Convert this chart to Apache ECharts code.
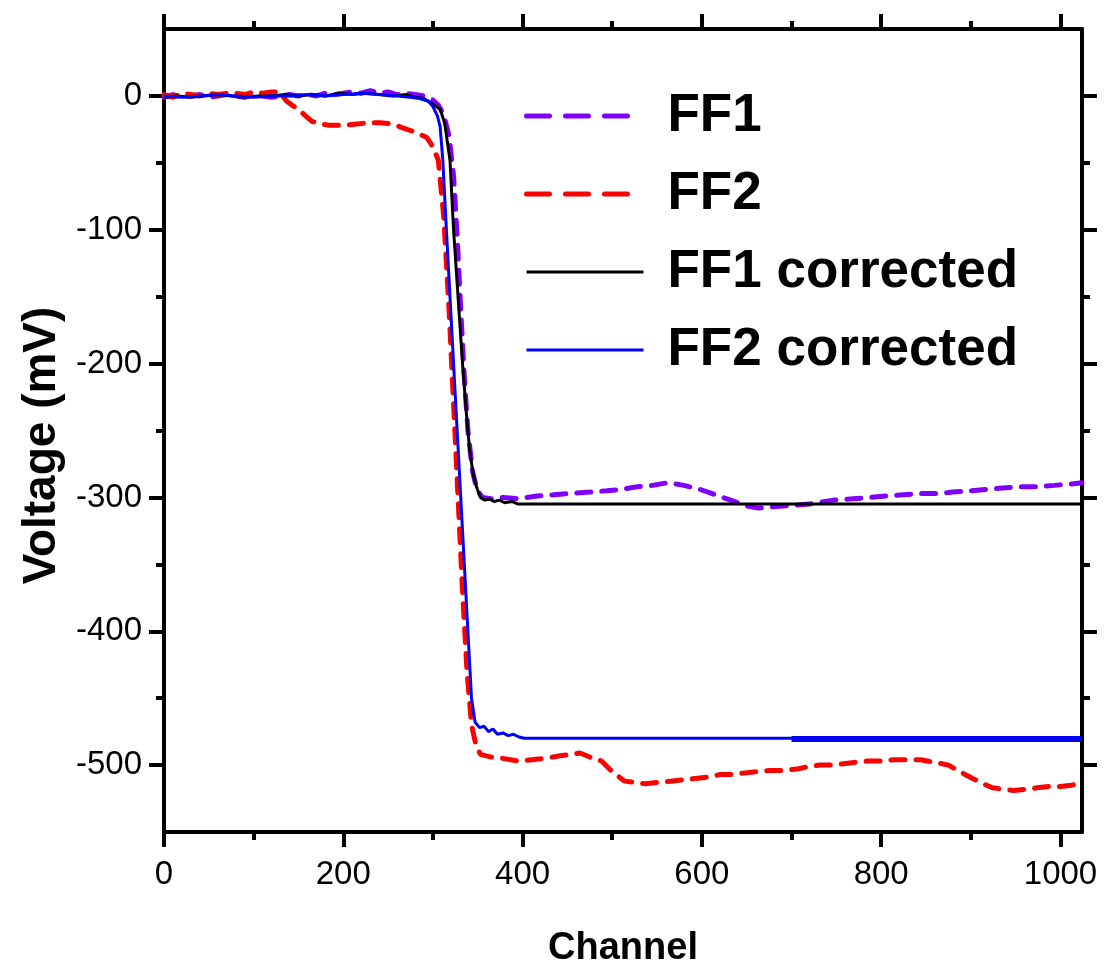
<!DOCTYPE html>
<html>
<head>
<meta charset="utf-8">
<script src="https://cdn.jsdelivr.net/npm/echarts@6/dist/echarts.min.js"></script>
<style>
html,body{margin:0;padding:0;background:#fff;}
#chart{width:1106px;height:968px;}
</style>
</head>
<body>
<div id="chart"></div>
<script>
// ---- Data (channel, mV) ----
const xTicks = [0, 200, 400, 600, 800, 1000];
const xMinorTicks = [100, 300, 500, 700, 900];
const yTicks = [-500, -400, -300, -200, -100, 0];
const yMinorTicks = [-450, -350, -250, -150, -50];

const ff1 = [[0,-1],[10,1],[20,-1],[30,0],[40,1],[50,-1],[60,0],[70,1],[80,0],[90,-1],[100,1],[110,0],[120,-1],[130,0],[140,1],[150,0],[160,1],[170,0],[180,2],[190,1],[200,2],[210,3],[220,2],[230,4],[240,2],[250,3],[260,1],[270,2],[280,1],[290,0],[300,-3],[306,-7],[312,-14],[318,-30],[323,-60],[327,-105],[331,-160],[335,-210],[339,-250],[344,-280],[349,-294],[355,-300],[365,-301],[378,-300],[395,-301],[416,-299],[435,-298],[455,-297],[475,-296],[494,-295],[510,-294],[528,-292],[545,-291],[562,-289],[580,-291],[598,-294],[615,-298],[632,-302],[648,-306],[663,-308],[680,-307],[699,-306],[720,-305],[747,-302],[768,-301],[788,-300],[805,-299],[825,-298],[845,-297],[864,-297],[880,-296],[900,-295],[918,-294],[935,-293],[955,-292],[974,-292],[993,-291],[1011,-290],[1024,-289]];

const ff2 = [[0,1],[10,-1],[20,2],[30,1],[40,0],[50,2],[60,1],[70,2],[80,2],[90,1],[100,3],[110,2],[120,3],[128,3],[137,-4],[143,-7],[150,-10],[158,-15],[165,-19],[175,-21],[185,-22],[200,-22],[215,-21],[230,-20],[241,-20],[255,-21],[267,-24],[280,-27],[293,-31],[300,-38],[306,-48],[312,-90],[318,-160],[323,-230],[328,-300],[333,-370],[338,-430],[343,-470],[348,-485],[353,-492],[365,-494],[378,-495],[395,-497],[410,-496],[425,-495],[442,-493],[455,-492],[464,-491],[475,-494],[488,-497],[500,-505],[514,-512],[525,-513],[537,-514],[550,-513],[565,-512],[580,-511],[593,-510],[607,-509],[621,-507],[635,-507],[646,-506],[660,-505],[676,-504],[690,-504],[706,-503],[720,-501],[732,-500],[745,-500],[758,-499],[770,-498],[784,-497],[800,-497],[814,-496],[830,-496],[844,-496],[860,-498],[875,-500],[888,-505],[902,-510],[914,-514],[924,-517],[936,-518],[948,-519],[962,-518],[974,-517],[987,-516],[1000,-516],[1012,-515],[1022,-514]];

const ff1c = [[0,-1],[15,0],[30,-1],[45,0],[60,1],[75,0],[90,-1],[105,0],[120,0],[135,1],[150,0],[165,1],[180,0],[195,2],[210,1],[225,2],[240,1],[255,0],[270,1],[280,-1],[290,-2],[300,-6],[308,-10],[313,-20],[319,-48],[323,-100],[328,-150],[333,-200],[337,-235],[341,-265],[345,-283],[349,-293],[353,-300],[358,-302],[363,-301],[368,-303],[374,-302],[380,-304],[388,-303],[395,-305],[402,-305],[1024,-305]];

const ff2c = [[0,0],[20,-1],[40,0],[60,1],[80,0],[100,-1],[120,0],[140,0],[160,1],[180,0],[200,1],[220,2],[240,1],[260,0],[275,-1],[285,-2],[295,-4],[300,-8],[305,-15],[308,-23],[311,-48],[315,-100],[319,-150],[323,-200],[327,-250],[331,-300],[335,-350],[339,-400],[343,-450],[347,-468],[352,-472],[357,-471],[362,-475],[367,-473],[372,-477],[378,-476],[384,-478],[390,-477],[396,-479],[402,-480],[700,-480],[1024,-480]];

const seriesNames = ['FF1', 'FF2', 'FF1 corrected', 'FF2 corrected'];
const seriesColors = ['#8000ff', '#ff0000', '#000000', '#0000ff'];

const baseFont = "'Liberation Sans', Arial, sans-serif";
const axisColor = '#000';

function axisCommon(extra) {
  return Object.assign({
    type: 'value',
    splitLine: { show: false },
    axisLine: { show: true, onZero: false, lineStyle: { color: axisColor, width: 4 } },
  }, extra);
}
const hiddenLine = { show: false, onZero: false };
const xCommon = { min: 0, max: 1024 };
const yCommon = { min: -550, max: 50 };
const majorTick = (vals) => ({ show: true, length: 15, lineStyle: { width: 4, color: axisColor }, customValues: vals });
const minorTick = (vals) => ({ show: true, length: 8, lineStyle: { width: 4, color: axisColor }, customValues: vals });

const dashedLegend = [23, 16];

const option = {
  backgroundColor: '#fff',
  animation: false,
  grid: { left: 164, right: 24, top: 29, bottom: 136, containLabel: false, outerBoundsMode: 'none' },
  legend: {
    orient: 'vertical',
    left: 519,
    top: 81,
    itemWidth: 117,
    itemHeight: 20,
    itemGap: 18,
    itemStyle: { opacity: 0 },
    textStyle: { fontFamily: baseFont, fontWeight: 'bold', fontSize: 53, color: '#000', padding: [0, 0, 0, 19], lineHeight: 60 },
    data: [
      { name: seriesNames[0], itemStyle: { opacity: 0 }, lineStyle: { width: 5, type: dashedLegend, color: seriesColors[0], cap: 'round' } },
      { name: seriesNames[1], itemStyle: { opacity: 0 }, lineStyle: { width: 5, type: dashedLegend, color: seriesColors[1], cap: 'round' } },
      { name: seriesNames[2], itemStyle: { opacity: 0 }, lineStyle: { width: 3, type: 'solid', color: seriesColors[2] } },
      { name: seriesNames[3], itemStyle: { opacity: 0 }, lineStyle: { width: 3, type: 'solid', color: seriesColors[3] } }
    ]
  },
  xAxis: [
    axisCommon(Object.assign({}, xCommon, {
      position: 'bottom',
      name: 'Channel', nameLocation: 'middle', nameGap: 98,
      nameTextStyle: { fontFamily: baseFont, fontWeight: 'bold', fontSize: 38, color: '#000' },
      axisTick: majorTick(xTicks),
      axisLabel: { show: true, customValues: xTicks, margin: 26, fontFamily: baseFont, fontSize: 33, color: '#000', formatter: (v) => String(v) }
    })),
    axisCommon(Object.assign({}, xCommon, {
      position: 'bottom', axisLine: hiddenLine,
      axisTick: minorTick(xMinorTicks), axisLabel: { show: false }
    })),
    axisCommon(Object.assign({}, xCommon, {
      position: 'top',
      axisTick: majorTick(xTicks), axisLabel: { show: false }
    })),
    axisCommon(Object.assign({}, xCommon, {
      position: 'top', axisLine: hiddenLine,
      axisTick: minorTick(xMinorTicks), axisLabel: { show: false }
    }))
  ],
  yAxis: [
    axisCommon(Object.assign({}, yCommon, {
      position: 'left',
      name: 'Voltage (mV)', nameLocation: 'middle', nameGap: 93, nameRotate: 90,
      nameTextStyle: { fontFamily: baseFont, fontWeight: 'bold', fontSize: 46, color: '#000', padding: [0, 30, 0, 0] },
      axisTick: majorTick(yTicks),
      axisLabel: { show: true, customValues: yTicks, margin: 22, fontFamily: baseFont, fontSize: 33, color: '#000', formatter: (v) => String(v) }
    })),
    axisCommon(Object.assign({}, yCommon, {
      position: 'left', axisLine: hiddenLine,
      axisTick: minorTick(yMinorTicks), axisLabel: { show: false }
    })),
    axisCommon(Object.assign({}, yCommon, {
      position: 'right',
      axisTick: majorTick(yTicks), axisLabel: { show: false }
    })),
    axisCommon(Object.assign({}, yCommon, {
      position: 'right', axisLine: hiddenLine,
      axisTick: minorTick(yMinorTicks), axisLabel: { show: false }
    }))
  ],
  series: [
    { name: seriesNames[0], type: 'line', data: ff1, showSymbol: false, symbol: 'none',
      itemStyle: { color: seriesColors[0] },
      lineStyle: { color: seriesColors[0], width: 5, type: [14, 11], cap: 'round' }, z: 2 },
    { name: seriesNames[1], type: 'line', data: ff2, showSymbol: false, symbol: 'none',
      itemStyle: { color: seriesColors[1] },
      lineStyle: { color: seriesColors[1], width: 5, type: [14, 11], cap: 'round' }, z: 2 },
    { name: seriesNames[2], type: 'line', data: ff1c, showSymbol: false, symbol: 'none',
      itemStyle: { color: seriesColors[2] },
      lineStyle: { color: seriesColors[2], width: 3 }, z: 3 },
    { name: seriesNames[3], type: 'line', data: ff2c, showSymbol: false, symbol: 'none',
      itemStyle: { color: seriesColors[3] },
      lineStyle: { color: seriesColors[3], width: 3 }, z: 4,
      markLine: {
        silent: true, symbol: ['none', 'none'], label: { show: false },
        lineStyle: { color: seriesColors[3], width: 6, type: 'solid' },
        data: [[{ coord: ff2c[ff2c.length - 2] }, { coord: ff2c[ff2c.length - 1] }]]
      } }
  ]
};

const chart = echarts.init(document.getElementById('chart'), null, { renderer: 'canvas' });
chart.setOption(option);
</script>
</body>
</html>
